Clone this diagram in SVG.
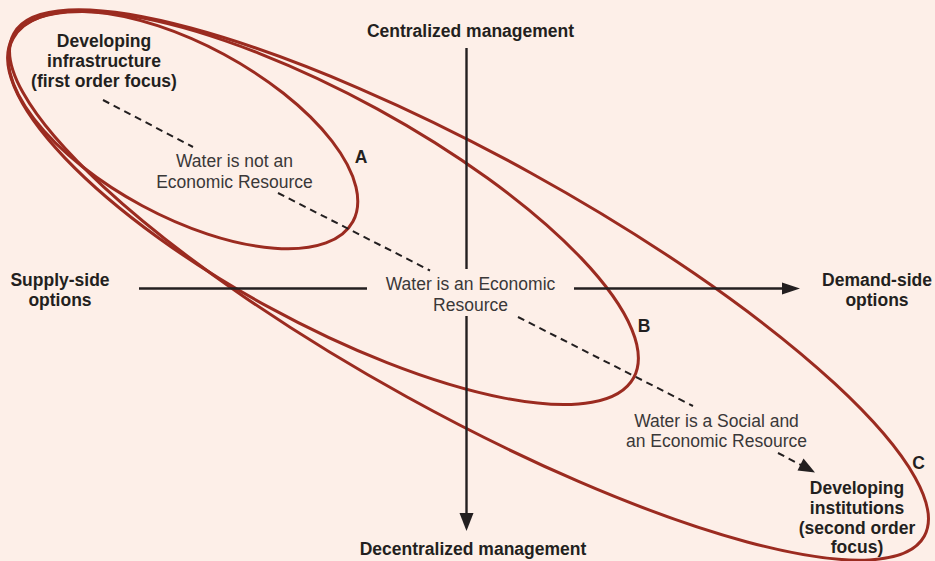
<svg xmlns="http://www.w3.org/2000/svg" width="935" height="561" viewBox="0 0 935 561">
<style>
.bg{fill:#fdefe8}
.ring{fill:none;stroke:#9b2b20;stroke-width:3}
.axis{stroke:#231f20;stroke-width:2.4;fill:none}
.dash{stroke:#231f20;stroke-width:2;stroke-dasharray:7 5;fill:none}
.b{font-family:"Liberation Sans",Arial,sans-serif;font-weight:bold;font-size:17.5px;fill:#231f20;text-anchor:middle}
.r{font-family:"Liberation Sans",Arial,sans-serif;font-size:17.5px;fill:#3a3838;text-anchor:middle}
</style>
<defs>
<marker id="ah" markerWidth="10" markerHeight="10" refX="9" refY="5" orient="auto" markerUnits="userSpaceOnUse" viewBox="0 0 10 10">
<path d="M0,0 L10,5 L0,10 Z" fill="#231f20"/>
</marker>
</defs>
<rect class="bg" x="0" y="0" width="935" height="561"/>
<g id="ellipse-C">
<ellipse class="ring" cx="469" cy="285" rx="520" ry="128" transform="rotate(28.9 469 285)"/>
<text class="b" x="918.5" y="469">C</text>
</g>
<g id="ellipse-B">
<ellipse class="ring" cx="323" cy="208" rx="354" ry="113" transform="rotate(28.65 323 208)"/>
<text class="b" x="644" y="332">B</text>
</g>
<g id="ellipse-A">
<ellipse class="ring" cx="183" cy="130" rx="193" ry="86" transform="rotate(28.3 183 130)"/>
<text class="b" x="361" y="162.5">A</text>
</g>
<g id="connectors">
<line class="axis" x1="466.5" y1="48" x2="466.5" y2="269"/>
<line class="axis" x1="466.5" y1="316" x2="466.5" y2="513"/>
<path d="M459.5,513 L473.5,513 L466.5,531 Z" fill="#231f20"/>
<line class="axis" x1="139" y1="288.5" x2="367" y2="288.5"/>
<line class="axis" x1="574" y1="288.5" x2="783" y2="288.5"/>
<path d="M782,282.5 L800,288.5 L782,294.5 Z" fill="#231f20"/>
<line class="dash" x1="103" y1="100" x2="193" y2="147"/>
<line class="dash" x1="278" y1="193" x2="430" y2="270.5"/>
<line class="dash" x1="518" y1="317" x2="693" y2="406"/>
<line class="dash" x1="778" y1="453" x2="803" y2="466"/>
<path d="M815,472.5 L797.5,470.5 L803.5,458.5 Z" fill="#231f20"/>
</g>
<g id="node-infrastructure">
<text class="b" x="104" y="47">Developing</text>
<text class="b" x="104" y="67">infrastructure</text>
<text class="b" x="104" y="87">(first order focus)</text>
</g>
<g id="node-institutions">
<text class="b" x="857" y="493.5">Developing</text>
<text class="b" x="857" y="513.5">institutions</text>
<text class="b" x="857" y="533.5">(second order</text>
<text class="b" x="857" y="553">focus)</text>
</g>
<g id="node-centralized">
<text class="b" x="470.5" y="36.5">Centralized management</text>
</g>
<g id="node-decentralized">
<text class="b" x="473" y="555">Decentralized management</text>
</g>
<g id="node-supply">
<text class="b" x="60" y="286">Supply-side</text>
<text class="b" x="60" y="305.5">options</text>
</g>
<g id="node-demand">
<text class="b" x="877" y="286">Demand-side</text>
<text class="b" x="877" y="305.5">options</text>
</g>
<g id="node-not-economic">
<text class="r" x="234.5" y="166.5">Water is not an</text>
<text class="r" x="234.5" y="187.5">Economic Resource</text>
</g>
<g id="node-economic">
<text class="r" x="470.5" y="290">Water is an Economic</text>
<text class="r" x="470.5" y="310.5">Resource</text>
</g>
<g id="node-social">
<text class="r" x="716.5" y="427">Water is a Social and</text>
<text class="r" x="716.5" y="447">an Economic Resource</text>
</g>
</svg>
